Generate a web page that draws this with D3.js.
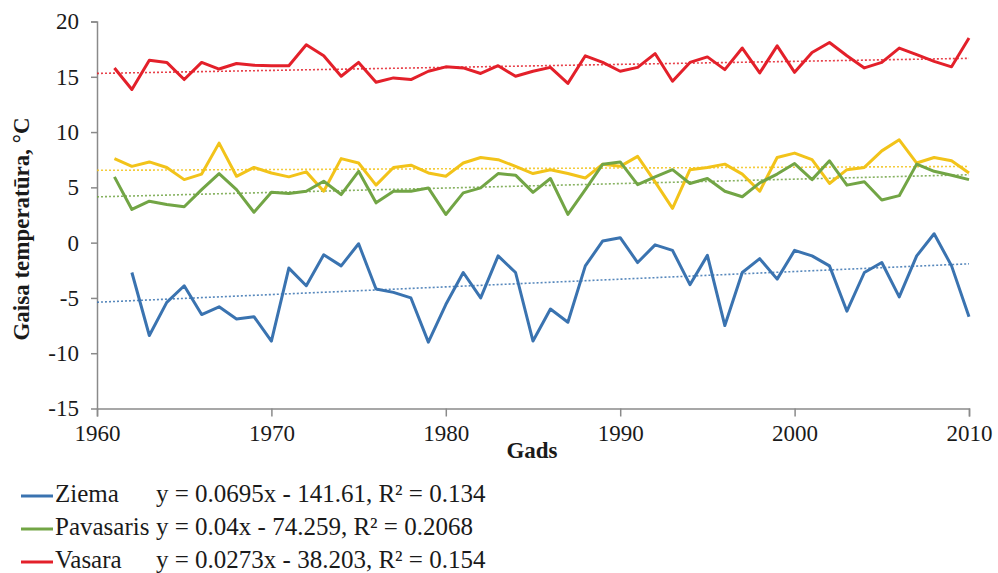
<!DOCTYPE html>
<html>
<head>
<meta charset="utf-8">
<script src="https://cdn.jsdelivr.net/npm/d3@7"></script>
<style>
body{margin:0;background:#fff}
svg text{font-family:"Times New Roman","Liberation Serif",Times,"Noto Serif","DejaVu Serif",serif !important}
</style>
</head>
<body>
<script>
var width=998,
	height=573;

var years=d3.range(1961,2011)
var seriesNames=["Ziema","Pavasaris","Vasara","Rudens"]
var seriesColors=["#3a73b0","#72a545","#e3202a","#f2c31a"]

// winter (no value for 1961)
var ziema=[null,-2.7,-8.4,-5.4,-3.9,-6.5,-5.8,-6.9,-6.7,-8.9,
	-2.3,-3.9,-1.1,-2.1,-0.1,-4.2,-4.5,-5.0,-9.0,-5.6,
	-2.7,-5.0,-1.2,-2.7,-8.9,-6.0,-7.2,-2.1,0.15,0.45,
	-1.8,-0.2,-0.7,-3.8,-1.15,-7.5,-2.7,-1.45,-3.3,-0.7,
	-1.2,-2.1,-6.2,-2.7,-1.8,-4.9,-1.2,0.8,-2.1,-6.7]
var pavasaris=[5.95,3.0,3.75,3.45,3.25,4.8,6.25,4.8,2.75,4.55,
	4.45,4.65,5.55,4.35,6.45,3.6,4.65,4.65,4.95,2.55,
	4.5,4.95,6.25,6.1,4.55,5.8,2.55,4.8,7.1,7.3,
	5.25,5.95,6.6,5.35,5.8,4.65,4.15,5.4,6.2,7.15,
	5.7,7.4,5.2,5.5,3.85,4.25,7.1,6.45,6.1,5.7]
var vasara=[15.8,13.85,16.5,16.3,14.75,16.3,15.7,16.2,16.05,16.0,
	16.0,17.9,16.9,15.05,16.3,14.5,14.9,14.75,15.5,15.9,
	15.8,15.3,16.0,15.05,15.5,15.85,14.4,16.9,16.3,15.5,
	15.85,17.1,14.6,16.3,16.8,15.65,17.6,15.35,17.8,15.4,
	17.2,18.1,16.9,15.8,16.3,17.6,17.0,16.4,15.9,18.5]
var rudens=[7.6,6.9,7.3,6.8,5.7,6.2,9.0,6.0,6.8,6.3,
	5.95,6.4,4.65,7.6,7.2,5.2,6.8,7.0,6.3,6.0,
	7.2,7.7,7.5,6.9,6.25,6.6,6.25,5.85,7.1,6.9,
	7.8,5.5,3.1,6.6,6.8,7.1,6.2,4.65,7.7,8.1,
	7.5,5.35,6.6,6.8,8.3,9.3,7.2,7.7,7.4,6.3]

// linear trends y = a*x + b
var trendSlopes=[0.0695,0.04,0.0273,0.007]
var trendIntercepts=[-141.61,-74.259,-38.203,-7.18]
var trendR2=[0.134,0.2068,0.154,null]
var trendRange=[1960,2010]

var xTicks=[1960,1970,1980,1990,2000,2010]
var yTicks=[-15,-10,-5,0,5,10,15,20]

function init(){
	var svg=d3.select("body").append("svg").attr("width",width).attr("height",height)

	var x=d3.scaleLinear().domain([1960,2010]).range([97,969])
	var y=d3.scaleLinear().domain([-15,20]).range([408.5,21.5])

	var allSeries=[ziema,pavasaris,vasara,rudens]

	// axes
	var yAxis=svg.append("g").attr("transform","translate("+x(1960)+",0)")
		.call(d3.axisLeft(y).tickValues(yTicks).tickSize(6).tickPadding(12).tickFormat(d3.format("d")))
	var xAxis=svg.append("g").attr("transform","translate(0,"+y(-15)+")")
		.call(d3.axisBottom(x).tickValues(xTicks).tickSize(8).tickPadding(8).tickFormat(d3.format("d")))
	;[xAxis,yAxis].forEach(function(a){
		a.attr("font-family",null).attr("font-size",23)
		a.select(".domain").attr("stroke","#8a8a8a").attr("stroke-width",1.5)
		a.selectAll(".tick line").attr("stroke","#8a8a8a").attr("stroke-width",1.5)
		a.selectAll(".tick text").attr("fill","#1a1a1a")
			.text(function(d){return String(d).replace("\u2212","-")})
	})
	yAxis.selectAll(".tick").filter(function(d){return d==-15}).select("line").remove()

	// trend lines
	;[3,1,0,2].forEach(function(i){
		var pts=trendRange.map(function(yr){return [yr,trendSlopes[i]*yr+trendIntercepts[i]]})
		svg.append("path")
			.attr("d",d3.line().x(function(d){return x(d[0])}).y(function(d){return y(d[1])})(pts))
			.attr("fill","none")
			.attr("stroke",seriesColors[i])
			.attr("stroke-width",1.6)
			.attr("stroke-dasharray","2,2")
			.attr("opacity",0.85)
	})

	// series lines
	var line=d3.line()
		.defined(function(d){return d[1]!=null})
		.x(function(d){return x(d[0])})
		.y(function(d){return y(d[1])})

	;[3,1,0,2].forEach(function(i){
		svg.append("path")
			.attr("d",line(years.map(function(yr,k){return [yr,allSeries[i][k]]})))
			.attr("fill","none")
			.attr("stroke",seriesColors[i])
			.attr("stroke-width",3)
			.attr("stroke-linejoin","round")
	})

	// axis titles
	svg.append("text")
		.attr("transform","translate(24,229) rotate(-90)")
		.attr("text-anchor","middle").attr("dominant-baseline","middle")
		.attr("fill","#1a1a1a")
		.style("font-size","23px").style("font-weight","bold")
		.text("Gaisa temperatūra, °C")
	svg.append("text")
		.attr("x",532).attr("y",453)
		.attr("text-anchor","middle").attr("dominant-baseline","middle")
		.attr("fill","#1a1a1a")
		.style("font-size","23px").style("font-weight","bold")
		.text("Gads")

	// legend
	var legend=svg.append("g")
	seriesNames.slice(0,3).forEach(function(name,i){
		var cy=496+i*33
		legend.append("line")
			.attr("x1",21).attr("x2",53).attr("y1",cy).attr("y2",cy)
			.attr("stroke",seriesColors[i]).attr("stroke-width",3)
		var t=legend.append("text").attr("x",55).attr("y",cy).attr("fill","#1a1a1a")
			.attr("dominant-baseline","middle").style("font-size","25px").text(name)
		var w=t.node().getComputedTextLength()
		var b=trendIntercepts[i]
		var eq="y = "+trendSlopes[i]+"x "+(b<0?"- ":"+ ")+Math.abs(b)+", R² = "+trendR2[i]
		legend.append("text").attr("x",Math.max(55+w+6,156)).attr("y",cy).attr("fill","#1a1a1a")
			.attr("dominant-baseline","middle").style("font-size","25px").text(eq)
	})
}

init()
</script>
</body>
</html>
